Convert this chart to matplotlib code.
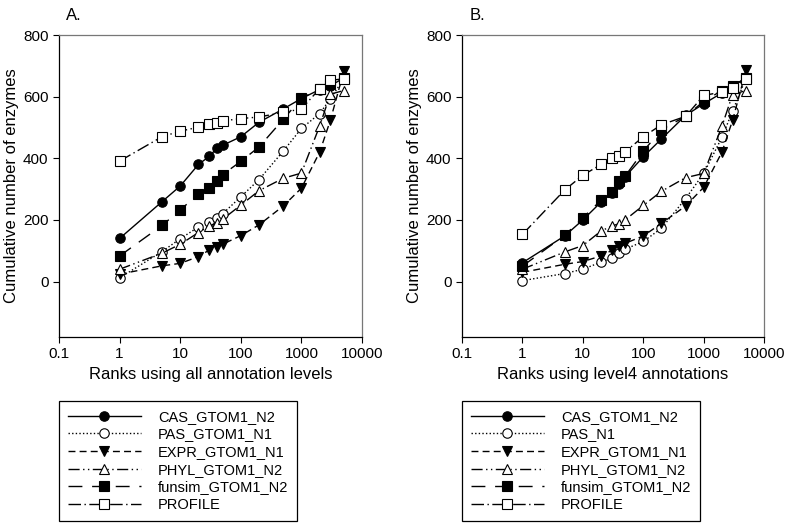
import numpy as np
import matplotlib
matplotlib.use("Agg")
import matplotlib.pyplot as plt
from matplotlib.ticker import FixedLocator, FixedFormatter, NullLocator

plt.rcParams['font.family'] = ['Liberation Sans', 'DejaVu Sans']

### Daten
ranks = [1, 5, 10, 20, 30, 40, 50, 100, 200, 500, 1000, 2000, 3000, 5000]

# Panel A: alle Annotationsebenen
casA    = [140, 259, 310, 380, 406, 432, 442, 470, 517, 560, 594, 623, 636, 660]
pasA    = [12, 97, 139, 177, 193, 207, 220, 275, 331, 423, 497, 545, 593, 658]
exprA   = [24, 51, 59, 81, 102, 113, 121, 149, 184, 245, 303, 420, 523, 682]
phylA   = [40, 92, 121, 159, 180, 191, 202, 248, 295, 335, 352, 505, 608, 620]
funsimA = [83, 182, 232, 285, 305, 326, 347, 390, 437, 526, 595, 625, 640, 660]
profA   = [391, 470, 488, 501, 510, 513, 521, 529, 534, 549, 560, 626, 653, 658]

# Panel B: level4 Annotationen
casB    = [61, 148, 200, 258, 288, 318, 340, 405, 463, 539, 577, 612, 634, 660]
pasB    = [3, 26, 40, 63, 75, 94, 105, 130, 173, 269, 351, 468, 553, 660]
exprB   = [30, 56, 65, 83, 101, 115, 124, 148, 189, 245, 306, 420, 523, 685]
phylB   = [40, 96, 117, 164, 180, 188, 200, 247, 293, 337, 351, 504, 607, 620]
funsimB = [50, 150, 207, 264, 290, 326, 342, 423, 493, 536, 585, 620, 636, 660]
profB   = [153, 297, 345, 380, 402, 409, 421, 470, 509, 536, 604, 615, 628, 657]

labelsA = ["CAS_GTOM1_N2", "PAS_GTOM1_N1", "EXPR_GTOM1_N1",
           "PHYL_GTOM1_N2", "funsim_GTOM1_N2", "PROFILE"]
labelsB = ["CAS_GTOM1_N2", "PAS_N1", "EXPR_GTOM1_N1",
           "PHYL_GTOM1_N2", "funsim_GTOM1_N2", "PROFILE"]

xticks = [0.1, 1, 10, 100, 1000, 10000]
xticklabels = ["0.1", "1", "10", "100", "1000", "10000"]
yticks = [0, 200, 400, 600, 800]

# Stil je Reihe: (Marker, gefuellt, Linienstil)
styles = [
    ("o", True, "-"),
    ("o", False, (0, (1, 1.6))),
    ("v", True, (0, (5, 3))),
    ("^", False, (0, (8, 2.5, 1, 2.5, 1, 2.5))),
    ("s", True, (0, (10, 7))),
    ("s", False, (0, (9, 2.5, 1, 2.5))),
]

fig = plt.figure(figsize=(7.87, 5.27), dpi=100)
axA = fig.add_axes([0.075, 0.3605, 0.385, 0.573])
axB = fig.add_axes([0.587, 0.3605, 0.384, 0.573])


def panel(ax, series, labels, xlabel, title, legx):
	handles = []
	for ys, lab, (m, filled, ls) in zip(series, labels, styles):
		h, = ax.plot(ranks, ys, color="black", linestyle=ls, linewidth=1,
		             marker=m, markersize=6.8, markeredgewidth=0.8,
		             markeredgecolor="black",
		             markerfacecolor="black" if filled else "white",
		             label=lab)
		handles.append(h)
	ax.set_xscale("log")
	ax.set_xlim(0.1, 10000)
	ax.set_ylim(-180, 800)
	ax.xaxis.set_major_locator(FixedLocator(xticks))
	ax.xaxis.set_major_formatter(FixedFormatter(xticklabels))
	ax.xaxis.set_minor_locator(NullLocator())
	ax.set_yticks(yticks)
	ax.tick_params(direction="out", length=4, width=0.8, labelsize=11,
	               top=False, right=False)
	ax.spines["top"].set_color("#777777")
	ax.spines["right"].set_color("#777777")
	for s in ax.spines.values():
		s.set_linewidth(0.9)
	ax.set_xlabel(xlabel, fontsize=12, labelpad=4)
	ax.set_ylabel("Cumulative number of enzymes", fontsize=12, labelpad=3)
	ax.text(0.05, 1.04, title, transform=ax.transAxes, fontsize=12,
	        ha="center", va="bottom")
	leg = fig.legend(handles=handles, loc="upper left",
	                 bbox_to_anchor=(legx, 0.239), fontsize=10.5,
	                 handlelength=5.0, handletextpad=1.2, labelspacing=0.25,
	                 borderpad=0.6, borderaxespad=0, fancybox=False,
	                 framealpha=1, edgecolor="black")
	leg.get_frame().set_linewidth(0.9)


panel(axA, [casA, pasA, exprA, phylA, funsimA, profA], labelsA,
      "Ranks using all annotation levels", "A.", 0.075)
panel(axB, [casB, pasB, exprB, phylB, funsimB, profB], labelsB,
      "Ranks using level4 annotations", "B.", 0.587)

fig.savefig("out.png", dpi=100)
